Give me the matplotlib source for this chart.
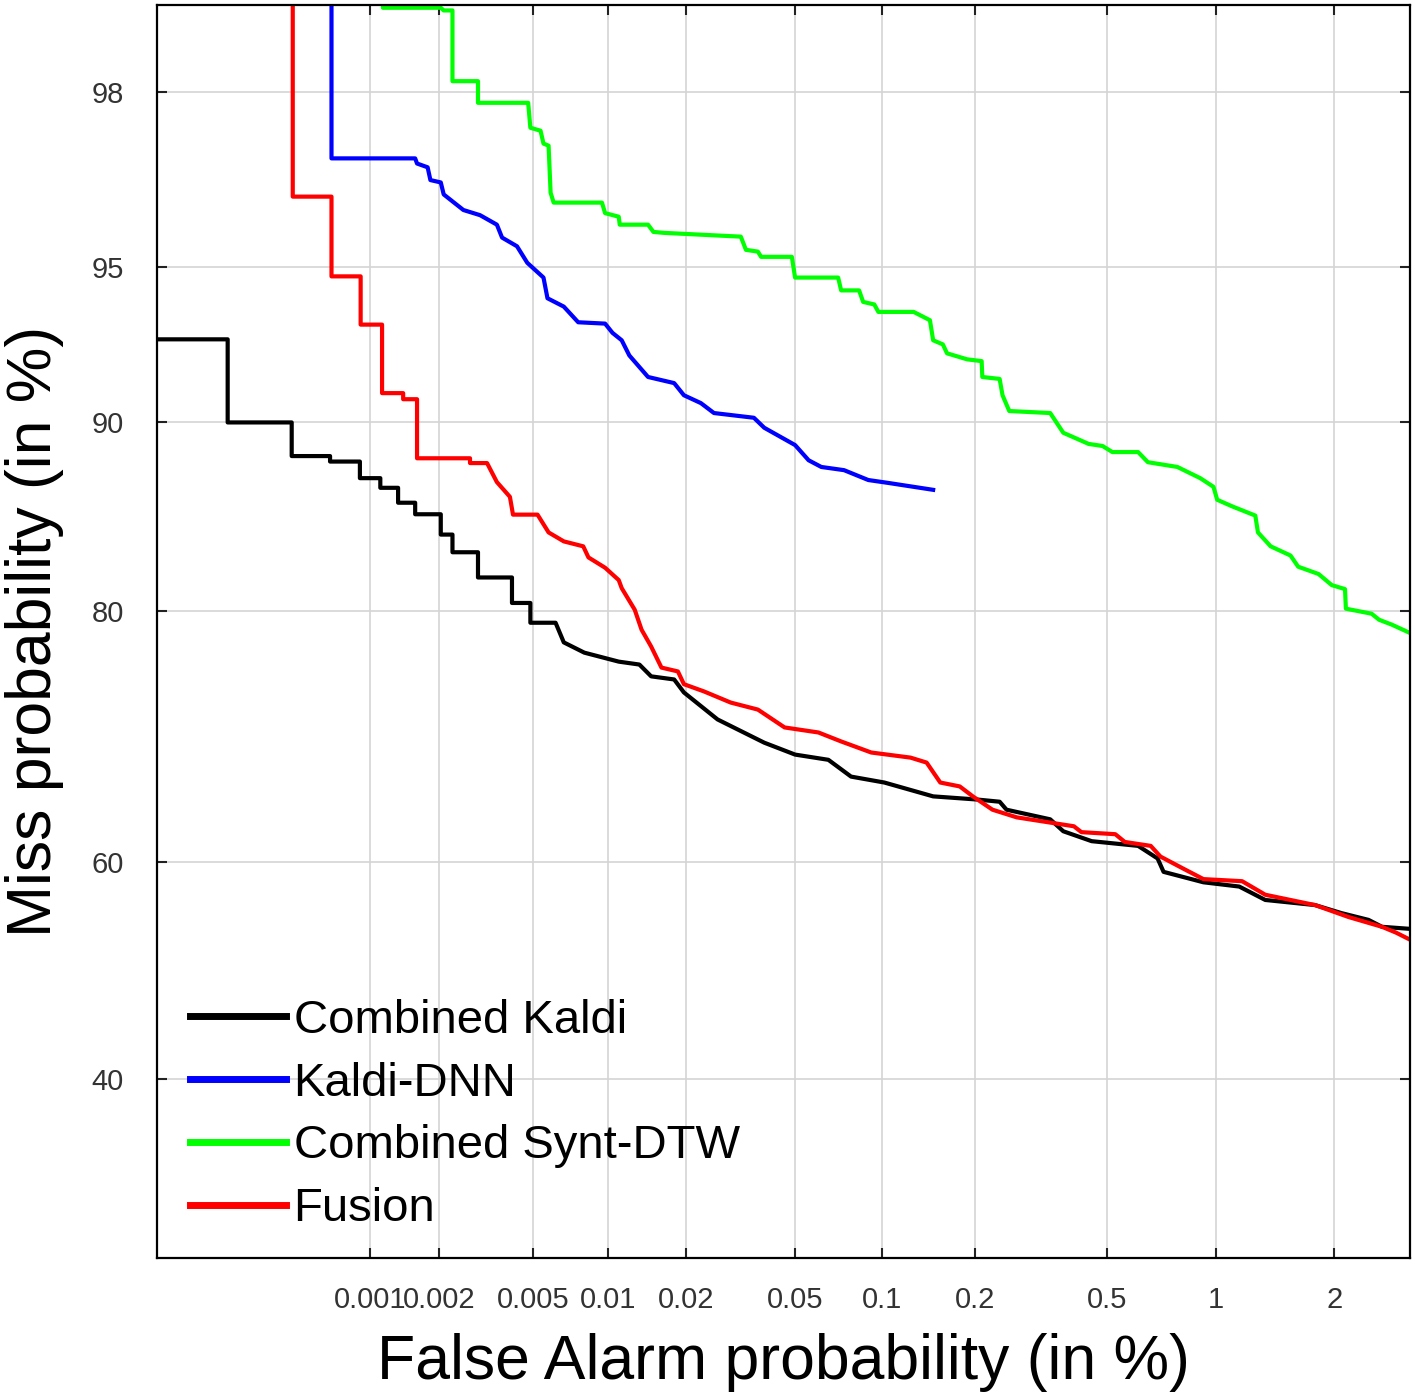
import numpy as np
import matplotlib
matplotlib.use("Agg")
import matplotlib.pyplot as plt
from statistics import NormalDist

# DET curves, values in percent (false alarm %, miss %)
kaldi_fa = [0.00008, 0.00022, 0.00022, 0.00044, 0.00044, 0.00066, 0.00066, 0.0009, 0.0009,
            0.00111, 0.00111, 0.00133, 0.00133, 0.00158, 0.00158, 0.00204, 0.00204, 0.00229,
            0.00229, 0.00294, 0.00294, 0.00408, 0.00408, 0.00486, 0.00486, 0.00616, 0.00665,
            0.00804, 0.011, 0.01324, 0.0147, 0.018, 0.0196, 0.0262, 0.0388, 0.05, 0.0654,
            0.0783, 0.1015, 0.147, 0.203, 0.239, 0.251, 0.341, 0.373, 0.452, 0.614, 0.696,
            0.723, 0.928, 1.154, 1.347, 1.794, 2.078, 2.41, 2.59, 3.0]
kaldi_miss = [93.0, 93.0, 90.0, 90.0, 88.55, 88.55, 88.3, 88.3, 87.52, 87.52, 87.05, 87.05,
              86.3, 86.3, 85.7, 85.7, 84.6, 84.6, 83.6, 83.6, 82.1, 82.1, 80.5, 80.5, 79.2,
              79.2, 77.86, 77.14, 76.5, 76.29, 75.43, 75.2, 74.23, 72.15, 70.3, 69.33, 68.9,
              67.5, 67.0, 65.82, 65.55, 65.36, 64.67, 63.83, 62.78, 61.9, 61.48, 60.35, 59.14,
              58.19, 57.8, 56.57, 56.1, 55.36, 54.73, 54.09, 53.9]

dnn_fa = [0.00067, 0.00067, 0.00158, 0.00161, 0.00179, 0.00184, 0.00204, 0.0021, 0.00231,
          0.00255, 0.003, 0.00353, 0.00371, 0.00428, 0.00472, 0.0055, 0.00571, 0.00665,
          0.0076, 0.00972, 0.0104, 0.0113, 0.0121, 0.0143, 0.018, 0.0196, 0.0227, 0.0254,
          0.0356, 0.0388, 0.05, 0.0558, 0.0618, 0.0741, 0.0896, 0.1045, 0.147]
dnn_miss = [99.5, 97.12, 97.12, 97.04, 96.98, 96.77, 96.73, 96.52, 96.38, 96.23, 96.13,
            95.94, 95.67, 95.48, 95.1, 94.74, 94.2, 93.97, 93.52, 93.48, 93.2, 92.97, 92.48,
            91.74, 91.52, 91.07, 90.77, 90.38, 90.19, 89.78, 89.04, 88.36, 88.05, 87.9,
            87.43, 87.29, 86.95]

synt_fa = [0.00114, 0.00114, 0.00204, 0.0021, 0.00229, 0.00229, 0.00294, 0.00294, 0.00476,
           0.00486, 0.00535, 0.0055, 0.00577, 0.00588, 0.00605, 0.00945, 0.00972, 0.011,
           0.0111, 0.0143, 0.015, 0.0165, 0.0319, 0.0333, 0.0368, 0.0378, 0.0487, 0.05,
           0.0707, 0.0724, 0.0834, 0.0861, 0.0939, 0.0969, 0.127, 0.1435, 0.147, 0.158,
           0.163, 0.189, 0.21, 0.211, 0.239, 0.244, 0.256, 0.341, 0.373, 0.443, 0.486,
           0.519, 0.614, 0.654, 0.789, 0.91, 0.987, 1.01, 1.11, 1.27, 1.29, 1.39, 1.56,
           1.63, 1.83, 1.97, 2.12, 2.13, 2.45, 2.55, 2.73, 3.02]
synt_miss = [99.5, 98.78, 98.78, 98.76, 98.76, 98.12, 98.12, 97.875, 97.875, 97.56, 97.52,
             97.34, 97.31, 96.55, 96.37, 96.37, 96.17, 96.1, 95.94, 95.94, 95.79, 95.77,
             95.69, 95.4, 95.36, 95.24, 95.24, 94.74, 94.74, 94.41, 94.41, 94.1, 94.03,
             93.82, 93.82, 93.58, 92.97, 92.84, 92.55, 92.35, 92.29, 91.74, 91.67, 91.07,
             90.46, 90.38, 89.57, 89.09, 89.0, 88.73, 88.73, 88.27, 88.05, 87.52, 87.1,
             86.45, 86.1, 85.63, 84.72, 83.94, 83.41, 82.75, 82.31, 81.63, 81.38, 80.13,
             79.8, 79.4, 79.07, 78.47]

fusion_fa = [0.000445, 0.000445, 0.00067, 0.00067, 0.000907, 0.000907, 0.00113, 0.00113,
             0.0014, 0.0014, 0.00161, 0.00161, 0.00272, 0.00272, 0.00321, 0.00353, 0.004,
             0.00412, 0.0052, 0.00577, 0.00665, 0.00796, 0.00835, 0.00972, 0.011, 0.0113,
             0.0127, 0.0135, 0.0147, 0.0161, 0.0186, 0.0196, 0.0233, 0.0293, 0.0368, 0.0459,
             0.0604, 0.0724, 0.0917, 0.124, 0.140, 0.155, 0.179, 0.197, 0.227, 0.270, 0.401,
             0.422, 0.529, 0.563, 0.666, 0.709, 0.819, 0.928, 1.174, 1.347, 1.794, 2.16,
             2.59, 2.79, 3.0]
fusion_miss = [99.5, 96.48, 96.48, 94.77, 94.77, 93.45, 93.45, 91.15, 91.15, 90.92, 90.92,
               88.45, 88.45, 88.23, 88.23, 87.33, 86.6, 85.68, 85.68, 84.72, 84.22, 83.94,
               83.3, 82.69, 81.94, 81.44, 80.06, 78.73, 77.57, 76.07, 75.79, 74.85, 74.31,
               73.46, 72.92, 71.52, 71.12, 70.4, 69.5, 69.08, 68.67, 67.0, 66.67, 65.82,
               64.67, 64.0, 63.22, 62.7, 62.52, 61.83, 61.48, 60.52, 59.43, 58.48, 58.29,
               57.05, 56.1, 55.0, 54.09, 53.55, 52.9]

xticks = [0.001, 0.002, 0.005, 0.01, 0.02, 0.05, 0.1, 0.2, 0.5, 1, 2]
xticklabels = ["0.001", "0.002", "0.005", "0.01", "0.02", "0.05", "0.1", "0.2", "0.5", "1", "2"]
yticks = [40, 60, 80, 90, 95, 98]
yticklabels = ["40", "60", "80", "90", "95", "98"]

nd = NormalDist()
_ppf = np.vectorize(nd.inv_cdf, otypes=[float])
_cdf = np.vectorize(nd.cdf, otypes=[float])


def probit(v):
    p = np.clip(np.asarray(v, dtype=float) / 100.0, 1e-12, 1 - 1e-12)
    return _ppf(p)


def inv_probit(z):
    return 100.0 * _cdf(np.asarray(z, dtype=float))


plt.rcParams['font.family'] = ['Liberation Sans', 'DejaVu Sans']

fig = plt.figure(figsize=(14.15, 13.99), dpi=100)
ax = fig.add_axes([0.111, 0.1008, 0.8854, 0.8956])
ax.set_xscale('function', functions=(probit, inv_probit))
ax.set_yscale('function', functions=(probit, inv_probit))

lw = 3
ax.plot(kaldi_fa, kaldi_miss, color='black', lw=lw, label='Combined Kaldi')
ax.plot(dnn_fa, dnn_miss, color='#0000ff', lw=lw, label='Kaldi-DNN')
ax.plot(synt_fa, synt_miss, color='#00ff00', lw=lw, label='Combined Synt-DTW')
ax.plot(fusion_fa, fusion_miss, color='#ff0000', lw=lw, label='Fusion')

ax.set_xlim(0.0001, 3)
ax.set_ylim(25.1, 98.8)
ax.set_xticks(xticks)
ax.set_xticklabels(xticklabels)
ax.set_yticks(yticks)
ax.set_yticklabels(yticklabels)
ax.minorticks_off()

ax.grid(True, color='#d4d4d4', lw=1.2)
ax.set_axisbelow(True)
ax.tick_params(direction='in', top=True, right=True, length=7, width=1.5,
               labelsize=21, labelcolor='#333333', color='#222222')
ax.tick_params(axis='x', pad=20)
ax.tick_params(axis='y', pad=24)
for s in ax.spines.values():
    s.set_linewidth(1.6)

ax.set_xlabel('False Alarm probability (in %)', fontsize=45, labelpad=14)
ax.set_ylabel('Miss probability (in %)', fontsize=45, labelpad=20)

leg = ax.legend(loc='upper left', bbox_to_anchor=(0.026, 0.207), frameon=False,
                fontsize=34, handlelength=2.05, handletextpad=0.15, labelspacing=0.4,
                borderpad=0, borderaxespad=0)
for h in leg.get_lines():
    h.set_linewidth(5)

fig.savefig('out.png', dpi=100)
